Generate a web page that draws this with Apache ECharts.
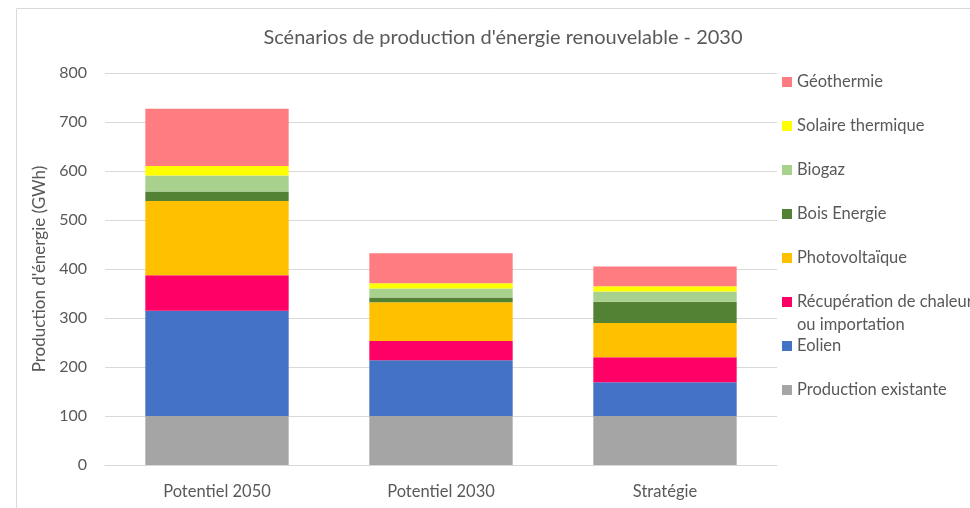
<!DOCTYPE html>
<html>
<head>
<meta charset="utf-8">
<script src="https://cdn.jsdelivr.net/npm/echarts@6/dist/echarts.min.js"></script>
<style>
  html, body { margin: 0; padding: 0; background: #fff; }
  #chart { width: 970px; height: 508px; }
</style>
</head>
<body>
<div id="chart"></div>
<script>
// scénarios (axe des catégories)
const categories = ['Potentiel 2050', 'Potentiel 2030', 'Stratégie'];

// valeurs (GWh)
const productionExistante = [100, 100, 100];
const eolien = [215, 114, 69];
const recuperation = [72, 39, 51];
const photovoltaique = [152, 79, 70];
const boisEnergie = [19, 10, 43];
const biogaz = [33, 18, 21];
const solaireThermique = [19, 11, 11];
const geothermie = [117, 61, 40];

const yTicks = { min: 0, max: 800, interval: 100 };

const font = 'Lato, "Open Sans", sans-serif';
const grey = '#595959';

const chart = echarts.init(document.getElementById('chart'));

function bar(name, data, color) {
  return {
    name: name,
    type: 'bar',
    stack: 'total',
    barWidth: '64%',
    data: data,
    itemStyle: { color: color },
    emphasis: { disabled: true }
  };
}

const option = {
  animation: false,
  textStyle: { fontFamily: font },
  title: {
    text: "Scénarios de production d'énergie renouvelable - 2030",
    left: 498,
    textAlign: 'center',
    top: 23,
    textStyle: { fontFamily: font, fontSize: 20, fontWeight: 'normal', color: grey }
  },
  grid: { left: 105, right: 193, top: 73, bottom: 43 },
  legend: {
    orient: 'vertical',
    left: 777,
    top: 67,
    itemWidth: 10,
    itemHeight: 10,
    itemGap: 24,
    icon: 'rect',
    textStyle: { fontFamily: font, fontSize: 16.5, color: grey, lineHeight: 20 },
    formatter: function (n) {
      return n === 'Récupération de chaleur ou importation' ? 'Récupération de chaleur' : n;
    },
    data: ['Géothermie', 'Solaire thermique', 'Biogaz', 'Bois Energie', 'Photovoltaïque',
           'Récupération de chaleur ou importation', 'Eolien', 'Production existante']
  },
  graphic: [
    {
      type: 'rect',
      shape: { x: 16.5, y: 8.5, width: 1000, height: 600 },
      style: { fill: 'none', stroke: '#d9d9d9', lineWidth: 1 },
      silent: true
    },
    {
      type: 'text',
      left: 797,
      top: 316,
      style: { text: 'ou importation', font: '16.5px ' + font, fill: grey }
    }
  ],
  xAxis: {
    type: 'category',
    data: categories,
    axisLine: { lineStyle: { color: '#d9d9d9' } },
    axisTick: { show: false },
    axisLabel: { fontSize: 16.5, color: grey, margin: 18 }
  },
  yAxis: {
    type: 'value',
    min: yTicks.min,
    max: yTicks.max,
    interval: yTicks.interval,
    name: "Production d'énergie (GWh)",
    nameLocation: 'middle',
    nameRotate: 90,
    nameGap: 50,
    nameTextStyle: { fontSize: 17, color: grey },
    axisLine: { show: false },
    axisTick: { show: false },
    axisLabel: { fontSize: 16, color: grey, margin: 18 },
    splitLine: { lineStyle: { color: '#d9d9d9' } }
  },
  series: [
    bar('Production existante', productionExistante, '#a5a5a5'),
    bar('Eolien', eolien, '#4472c4'),
    bar('Récupération de chaleur ou importation', recuperation, '#ff0066'),
    bar('Photovoltaïque', photovoltaique, '#ffc000'),
    bar('Bois Energie', boisEnergie, '#548235'),
    bar('Biogaz', biogaz, '#a9d18e'),
    bar('Solaire thermique', solaireThermique, '#ffff00'),
    bar('Géothermie', geothermie, '#ff7c80')
  ]
};

chart.setOption(option);
</script>
</body>
</html>
